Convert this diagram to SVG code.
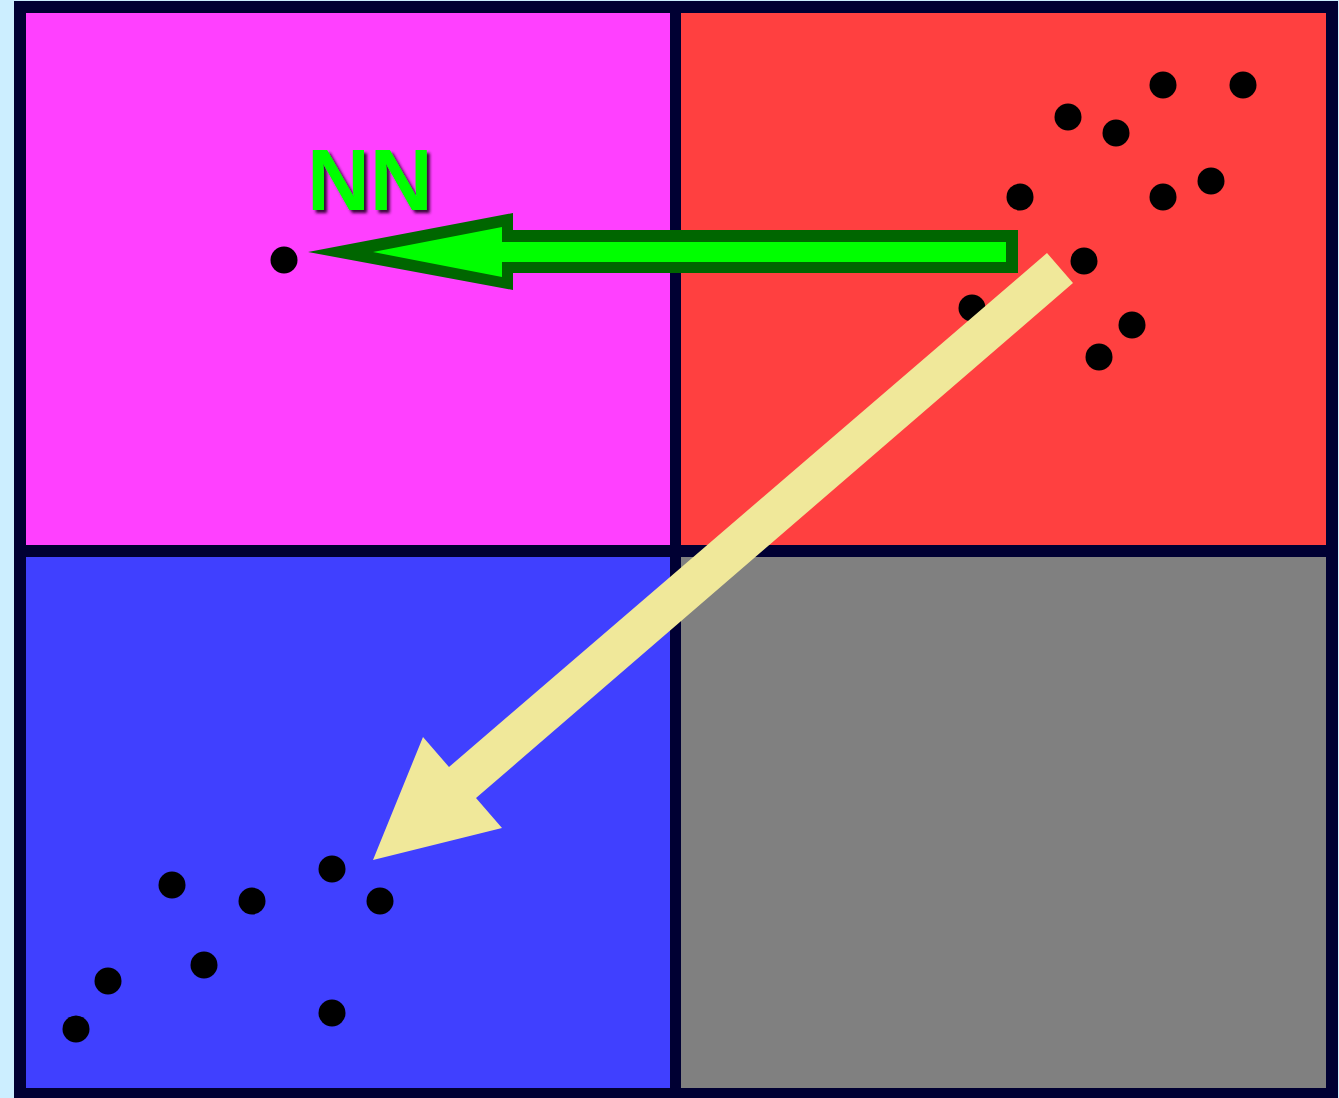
<svg xmlns="http://www.w3.org/2000/svg" width="1339" height="1098" viewBox="0 0 1339 1098">
<style>
.dot{fill:#000000}
.nn{font-family:"Liberation Sans",Arial,sans-serif;font-weight:bold;font-size:87px}
</style>
<defs>
<filter id="shadow" x="-20%" y="-20%" width="150%" height="150%">
<feDropShadow dx="3" dy="3" stdDeviation="1.5" flood-color="#220022" flood-opacity="0.9"/>
</filter>
</defs>
<rect x="0" y="0" width="1339" height="1098" fill="#cceeff"/>
<rect x="14" y="1" width="1324" height="1097" fill="#000033"/>
<g id="cell-magenta"><rect x="26" y="13" width="644" height="532" fill="#ff40ff"/></g>
<g id="cell-red"><rect x="681" y="13" width="645" height="532" fill="#ff4040"/></g>
<g id="cell-blue"><rect x="26" y="557" width="644" height="531" fill="#4040ff"/></g>
<g id="cell-grey"><rect x="681" y="557" width="645" height="531" fill="#808080"/></g>
<g id="query-point"><circle class="dot" cx="284" cy="260" r="13.5"/></g>
<g id="red-points">
<circle class="dot" cx="1163" cy="85" r="13.5"/>
<circle class="dot" cx="1243" cy="85" r="13.5"/>
<circle class="dot" cx="1068" cy="117" r="13.5"/>
<circle class="dot" cx="1116" cy="133" r="13.5"/>
<circle class="dot" cx="1020" cy="197" r="13.5"/>
<circle class="dot" cx="1163" cy="197" r="13.5"/>
<circle class="dot" cx="1211" cy="181" r="13.5"/>
<circle class="dot" cx="1084" cy="261" r="13.5"/>
<circle class="dot" cx="972" cy="308" r="13.5"/>
<circle class="dot" cx="1132" cy="325" r="13.5"/>
<circle class="dot" cx="1099" cy="357" r="13.5"/>
</g>
<g id="blue-points">
<circle class="dot" cx="172" cy="885" r="13.5"/>
<circle class="dot" cx="252" cy="901" r="13.5"/>
<circle class="dot" cx="332" cy="869" r="13.5"/>
<circle class="dot" cx="380" cy="901" r="13.5"/>
<circle class="dot" cx="204" cy="965" r="13.5"/>
<circle class="dot" cx="108" cy="981" r="13.5"/>
<circle class="dot" cx="76" cy="1029" r="13.5"/>
<circle class="dot" cx="332" cy="1013" r="13.5"/>
</g>
<g id="connectors">
<polygon points="308,252 513,213 513,230 1018,230 1018,273 513,273 513,290" fill="#006600"/>
<polygon points="373,252 502,227 502,242 1006,242 1006,262 502,262 502,277" fill="#00ff00"/>
<polygon points="1047,253 1073,283 476,798 502,828 373,860 423,737 449,767" fill="#f0e89a"/>
</g>
<g id="label-nn">
<text class="nn" x="307" y="210" fill="#00ff00" filter="url(#shadow)">NN</text>
</g>
</svg>
